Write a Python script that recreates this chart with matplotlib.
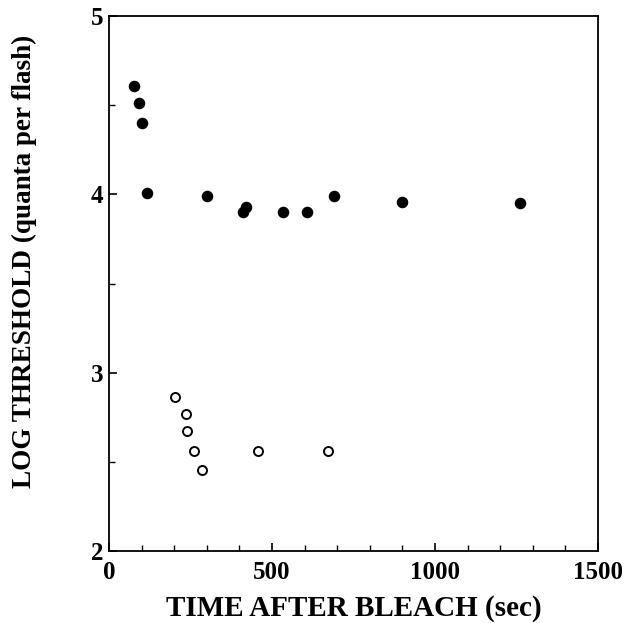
import matplotlib
matplotlib.use("Agg")
import matplotlib.pyplot as plt
from matplotlib.ticker import MultipleLocator

filled_t = [78, 91, 102, 117, 300, 410, 419, 534, 607, 690, 900, 1262]
filled_y = [4.61, 4.51, 4.40, 4.01, 3.99, 3.90, 3.93, 3.90, 3.90, 3.99, 3.955, 3.95]
open_t = [203, 236, 240, 261, 286, 458, 671]
open_y = [2.865, 2.77, 2.672, 2.56, 2.454, 2.56, 2.56]

x_ticks = [0, 500, 1000, 1500]
y_ticks = [2, 3, 4, 5]

plt.rcParams['font.family'] = ['Liberation Serif', 'DejaVu Serif']
fig = plt.figure(figsize=(6.25, 6.23), dpi=100)
ax = fig.add_axes([109/625, 1-551/623, (598-109)/625, (551-16)/623])

ax.plot(filled_t, filled_y, 'o', color='black', markersize=7.3, linestyle='none')
ax.plot(open_t, open_y, 'o', markerfacecolor='white', markeredgecolor='black',
        markeredgewidth=1.4, markersize=6.5, linestyle='none')

ax.set_xlim(0, 1500)
ax.set_ylim(2, 5)
ax.set_xticks(x_ticks)
ax.set_yticks(y_ticks)
ax.xaxis.set_minor_locator(MultipleLocator(100))
ax.yaxis.set_minor_locator(MultipleLocator(0.5))
ax.tick_params(which='both', direction='in', top=False, right=False)
ax.tick_params(which='major', length=6, width=1.2, labelsize=18)
ax.tick_params(axis='x', which='major', pad=7)
ax.tick_params(axis='y', which='major', pad=4)
ax.tick_params(which='minor', length=4, width=1.0)
for lbl in ax.get_xticklabels() + ax.get_yticklabels():
    lbl.set_fontweight('bold')
for s in ax.spines.values():
    s.set_linewidth(1.3)

ax.set_xlabel('TIME AFTER BLEACH (sec)', fontsize=21, fontweight='bold')
ax.set_ylabel('LOG THRESHOLD (quanta per flash)', fontsize=19.5, fontweight='bold')
ax.xaxis.set_label_coords(0.5, -0.083)
ax.yaxis.set_label_coords(-0.147, 0.542)

fig.savefig('out.png', dpi=100)
